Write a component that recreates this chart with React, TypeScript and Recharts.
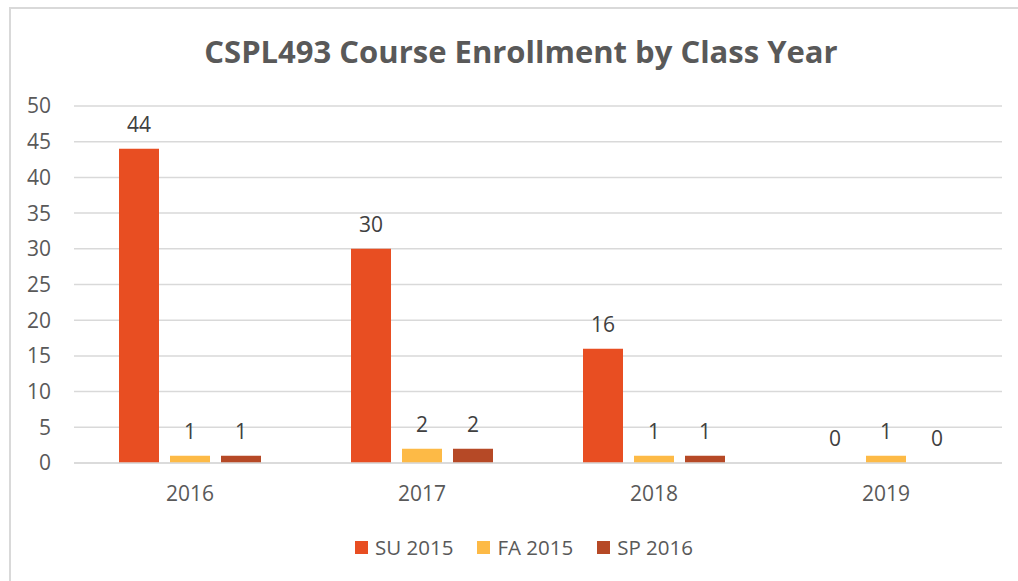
import React from 'react';
import { BarChart, Bar, XAxis, YAxis, CartesianGrid, LabelList } from 'recharts';

const classYears = ['2016', '2017', '2018', '2019'];
const su2015 = [44, 30, 16, 0];
const fa2015 = [1, 2, 1, 1];
const sp2016 = [1, 2, 1, 0];
const yTicks = [0, 5, 10, 15, 20, 25, 30, 35, 40, 45, 50];

const series = [
  { key: 'su', name: 'SU 2015', color: '#E84E22' },
  { key: 'fa', name: 'FA 2015', color: '#FDBA46' },
  { key: 'sp', name: 'SP 2016', color: '#B64926' },
];

const data = classYears.map((year, i) => ({
  year,
  su: su2015[i],
  fa: fa2015[i],
  sp: sp2016[i],
}));

const FONT = '"Open Sans", sans-serif';
const FS = 21;

// value label drawn by hand, sits 17px over the bar top
const renderValue = (props: any) => {
  const { x, y, width, value } = props;
  return (
    <text
      x={Number(x) + Number(width) / 2}
      y={Number(y) - 17}
      textAnchor="middle"
      fill="#404040"
      fontSize={FS}
      fontFamily={FONT}
    >
      {value}
    </text>
  );
};

export default function App() {
  return (
    <div style={{ position: 'fixed', left: 0, top: 0, width: 1018, height: 581, overflow: 'hidden', background: '#fff', fontFamily: FONT }}>
      <div
        style={{
          position: 'absolute',
          left: 9,
          top: 7,
          width: 1100,
          height: 700,
          borderLeft: '2px solid #d9d9d9',
          borderTop: '2px solid #d9d9d9',
        }}
      />
      <div
        style={{
          position: 'absolute',
          left: 9,
          top: 31,
          width: 1024,
          textAlign: 'center',
          fontSize: 31,
          fontWeight: 700,
          color: '#595959',
          lineHeight: '40px',
        }}
      >
        CSPL493 Course Enrollment by Class Year
      </div>
      <div style={{ position: 'absolute', left: 0, top: 0 }}>
        <BarChart
          width={1018}
          height={581}
          data={data}
          margin={{ top: 106, right: 16, bottom: 88, left: 0 }}
          barSize={40}
          barGap={11}
        >
          <CartesianGrid vertical={false} stroke="#d9d9d9" strokeWidth={1.5} />
          <XAxis
            dataKey="year"
            height={30}
            axisLine={{ stroke: '#d9d9d9', strokeWidth: 1.5 }}
            tickLine={false}
            tickSize={0}
            tickMargin={23}
            tick={{ fill: '#595959', fontSize: FS, fontFamily: FONT }}
          />
          <YAxis
            width={74}
            domain={[0, 50]}
            ticks={yTicks}
            axisLine={false}
            tickLine={false}
            tickSize={0}
            tickMargin={23}
            tick={{ fill: '#595959', fontSize: FS, fontFamily: FONT }}
          />
          {series.map((s) => (
            <Bar
              key={s.key}
              dataKey={s.key}
              name={s.name}
              fill={s.color}
              minPointSize={0.01}
              isAnimationActive={false}
            >
              <LabelList dataKey={s.key} content={renderValue} />
            </Bar>
          ))}
        </BarChart>
      </div>
      <div
        style={{
          position: 'absolute',
          left: 12,
          top: 533,
          width: 1024,
          height: 28,
          display: 'flex',
          justifyContent: 'center',
          alignItems: 'center',
          gap: 24,
        }}
      >
        {series.map((s) => (
          <div key={s.key} style={{ display: 'flex', alignItems: 'center' }}>
            <span style={{ width: 13, height: 13, background: s.color, display: 'inline-block', marginRight: 7 }} />
            <span style={{ fontSize: 20.5, color: '#595959' }}>{s.name}</span>
          </div>
        ))}
      </div>
    </div>
  );
}
